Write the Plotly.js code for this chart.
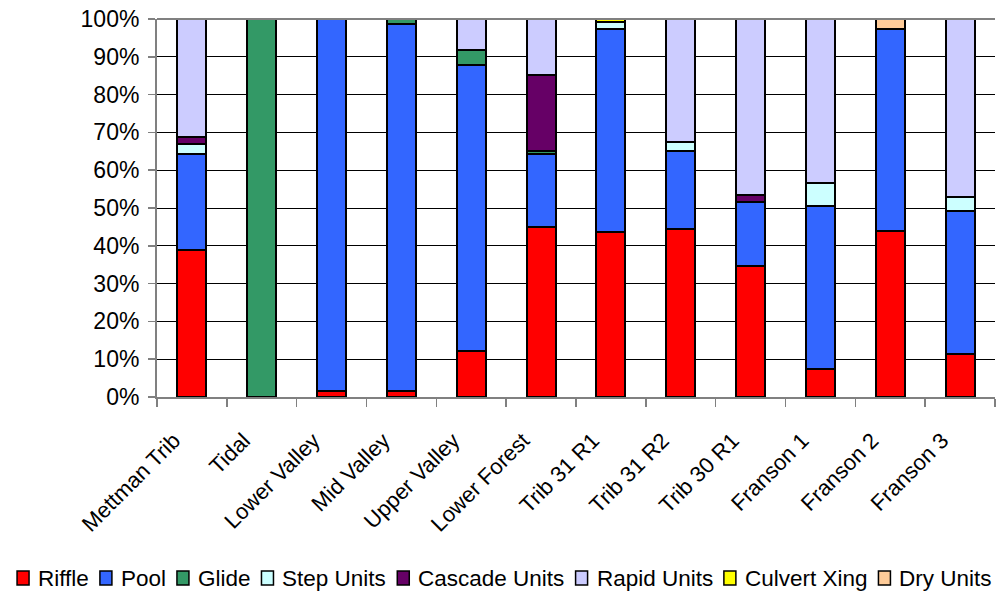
<!DOCTYPE html>
<html>
<head>
<meta charset="utf-8">
<script src="https://cdn.plot.ly/plotly-3.0.1.min.js"></script>
<style>
  html, body { margin: 0; padding: 0; background: #fff; }
  #chart { width: 997px; height: 593px; }
</style>
</head>
<body>
<div id="chart"></div>
<script>
// Habitat unit composition by reach (percent of reach length)
const reaches = ['Mettman Trib', 'Tidal', 'Lower Valley', 'Mid Valley', 'Upper Valley', 'Lower Forest',
                 'Trib 31 R1', 'Trib 31 R2', 'Trib 30 R1', 'Franson 1', 'Franson 2', 'Franson 3'];

const riffle   = [38.9, null, 1.6, 1.6, 12.1, 44.9, 43.7, 44.4, 34.6, 7.3, 43.9, 11.5];
const pool     = [25.5, null, 98.4, 97.1, 75.6, 19.5, 53.7, 20.7, 17.1, 43.2, 53.5, 37.8];
const glide    = [null, 100, null, 1.3, 4.2, 0.7, null, null, null, null, null, null];
const stepU    = [2.6, null, null, null, null, null, 1.7, 2.3, null, 6.0, null, 3.7];
const cascadeU = [1.8, null, null, null, null, 20.2, null, null, 1.8, null, null, null];
const rapidU   = [31.2, null, null, null, 8.1, 14.7, null, 32.6, 46.5, 43.5, null, 47.0];
const culvert  = [null, null, null, null, null, null, 0.9, null, null, null, null, null];
const dryU     = [null, null, null, null, null, null, null, null, null, null, 2.6, null];

const seriesNames  = ['Riffle', 'Pool', 'Glide', 'Step Units', 'Cascade Units', 'Rapid Units', 'Culvert Xing', 'Dry Units'];
const seriesValues = [riffle, pool, glide, stepU, cascadeU, rapidU, culvert, dryU];
const seriesColors = ['#FF0000', '#3366FF', '#339966', '#CCFFFF', '#660066', '#CCCCFF', '#FFFF00', '#FFCC99'];

const FONT = '"Liberation Sans", Arial, sans-serif';
const W = 997, H = 593;
const M = { l: 157, r: 2, t: 19, b: 196 };
const pw = W - M.l - M.r, ph = H - M.t - M.b;
const px2x = X => (X - M.l) / pw;
const px2y = Y => (H - M.b - Y) / ph;

const traces = seriesNames.map((name, i) => ({
  type: 'bar',
  name: name,
  x: reaches,
  y: seriesValues[i],
  marker: { color: seriesColors[i], line: { color: '#000000', width: 2 } },
  showlegend: false,
  hoverinfo: 'x+y+name'
}));

// Legend row along the bottom: swatch + label, laid out from measured text widths
const legendSize = 22.5;
const ctx = document.createElement('canvas').getContext('2d');
ctx.font = legendSize + 'px "Liberation Sans"';
const sw = 12, gapText = 8, gapItem = 12;
const widths = seriesNames.map(n => ctx.measureText(n).width);
const total = widths.reduce((s, w) => s + sw + gapText + w, 0) + gapItem * (seriesNames.length - 1);
let cursor = 504 - total / 2;
const shapes = [];
const annotations = [];
seriesNames.forEach((n, i) => {
  shapes.push({
    type: 'rect', xref: 'paper', yref: 'paper',
    x0: px2x(cursor), x1: px2x(cursor + sw),
    y0: px2y(585), y1: px2y(571),
    fillcolor: seriesColors[i], line: { color: '#000000', width: 1.5 }
  });
  annotations.push({
    xref: 'paper', yref: 'paper',
    x: px2x(cursor + sw + gapText), y: px2y(578),
    xanchor: 'left', yanchor: 'middle',
    text: n, showarrow: false, borderpad: 0,
    font: { family: FONT, size: legendSize, color: '#000000' }
  });
  cursor += sw + gapText + widths[i] + gapItem;
});

// Grey frame line across the top of the plot area
shapes.push({
  type: 'line', xref: 'paper', yref: 'paper', x0: 0, x1: 1, y0: 1, y1: 1,
  line: { color: '#808080', width: 2 }
});

const layout = {
  width: W, height: H,
  margin: M,
  paper_bgcolor: '#ffffff',
  plot_bgcolor: '#ffffff',
  barmode: 'stack',
  bargap: 0.585,
  showlegend: false,
  font: { family: FONT, color: '#000000' },
  xaxis: {
    type: 'category',
    tickangle: -45,
    tickfont: { family: FONT, size: 22, color: '#000000' },
    ticks: 'outside', tickson: 'boundaries', ticklen: 8,
    tickcolor: '#808080', tickwidth: 1.5,
    showline: true, linecolor: '#808080', linewidth: 2,
    showgrid: false, zeroline: false,
    automargin: false,
    ticklabelstandoff: 20,
    ticklabelshift: -18
  },
  yaxis: {
    range: [0, 100],
    dtick: 10, tick0: 0,
    ticksuffix: '%',
    tickfont: { family: FONT, size: 23, color: '#000000' },
    ticks: 'outside', ticklen: 7, tickcolor: '#808080', tickwidth: 1.5,
    showline: true, linecolor: '#808080', linewidth: 2,
    showgrid: true, gridcolor: '#000000', gridwidth: 1,
    zeroline: false,
    automargin: false,
    ticklabelstandoff: 4
  },
  shapes: shapes,
  annotations: annotations
};

Plotly.newPlot('chart', traces, layout, { displayModeBar: false, staticPlot: true });
</script>
</body>
</html>
